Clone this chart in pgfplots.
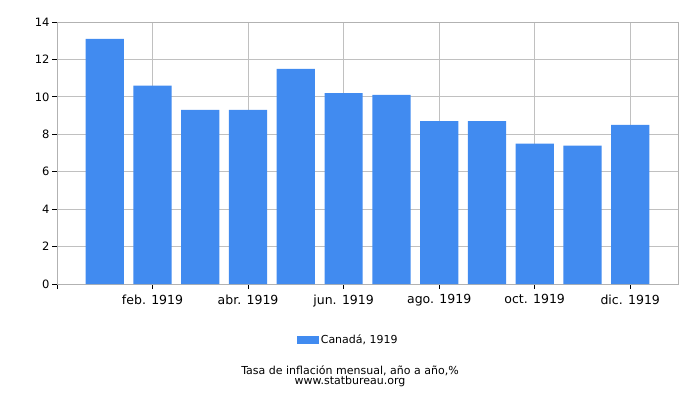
\documentclass[border=0pt]{standalone}
\usepackage{pgfplots}
\pgfplotsset{compat=1.18}
\usepackage{fontspec}
\setmainfont{DejaVu Sans}
\definecolor{barblue}{RGB}{65,139,240}
\definecolor{gridgray}{RGB}{192,192,192}
\definecolor{framegray}{RGB}{178,178,178}
\begin{document}
\begin{tikzpicture}[x=1pt,y=1pt]
\path (0,0) rectangle (700,400);
\begin{axis}[%
    at={(57pt,116pt)}, anchor=south west,
    scale only axis, width=621pt, height=262pt,
    xmin=-1, xmax=12, ymin=0, ymax=14,
    ytick={0,2,...,14},
    xtick={-1,1,3,5,7,9,11},
    xticklabels={,feb. 1919,abr. 1919,jun. 1919,ago. 1919,oct. 1919,dic. 1919},
    tick align=outside, tick pos=left,
    major tick length=5pt,
    tick style={black, line width=0.8pt},
    axis line style={framegray, line width=0.8pt},
    grid=major, grid style={gridgray, line width=0.8pt},
    /pgf/number format/assume math mode=true,
    yticklabel style={font=\fontsize{11.5}{11.5}\selectfont, xshift=1pt},
    xticklabel style={font=\fontsize{12.5}{12.5}\selectfont, yshift=-2pt},
    legend style={at={(0.469,-0.214)}, anchor=center, draw=none,
        font=\fontsize{11}{11}\selectfont},
    legend image code/.code={\fill[barblue] (0pt,-4pt) rectangle (22pt,4pt);},
    ]
\addplot[ybar, bar width=0.8, fill=barblue, draw=none] coordinates {
(0,13.1) (1,10.6) (2,9.3) (3,9.3) (4,11.5) (5,10.2)
(6,10.1) (7,8.7) (8,8.7) (9,7.5) (10,7.4) (11,8.5)
};
\addlegendentry{Canadá, 1919}
\end{axis}
\node[font=\fontsize{11}{10}\selectfont, align=center] at (350,24)
    {Tasa de inflación mensual, año a año,\%\\www.statbureau.org};
\end{tikzpicture}
\end{document}
